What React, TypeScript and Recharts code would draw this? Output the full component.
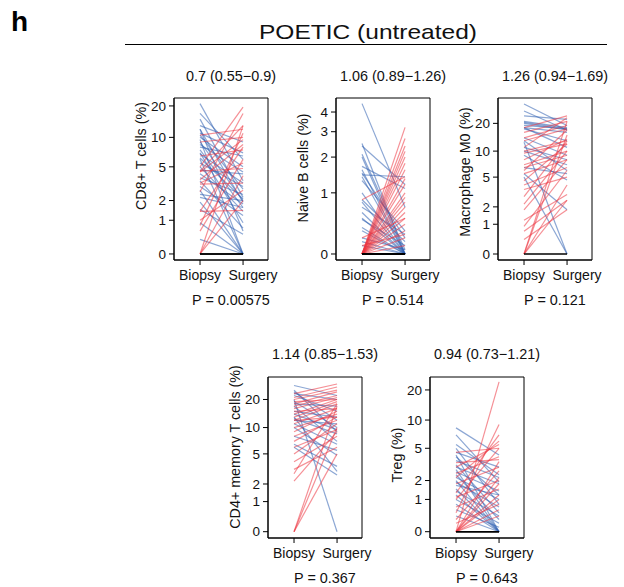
import { LineChart, Line, XAxis, YAxis, ReferenceArea } from 'recharts';

// paired values (% of cells), one entry per patient, biopsy then surgery
const timepoints = ['Biopsy', 'Surgery'];

const cd8Biopsy = [21, 17, 15, 13, 12, 12, 11, 10.5, 10, 9.5, 9, 8.5, 8, 7.5, 7, 6.8, 6.2, 6, 5.5, 5, 4.6, 4.2, 3.8, 3.5, 3, 2.7, 2.4, 2.2, 1.9, 1.5, 0.9, 0.35, 5, 4.5, 3.6, 4.4, 3.3, 3.2, 4.5, 1.4, 1.4, 0.8, 0.6, 0, 0, 0, 2.6, 6.5, 9, 10.5, 1, 0, 0];
const cd8Surgery = [3.5, 6, 2.2, 9, 1.9, 0.6, 7, 2.8, 5, 0, 2, 4.4, 6.5, 1.6, 0.9, 3.3, 2.1, 0, 3, 1.4, 4.2, 1.8, 2.4, 0.7, 1.2, 0, 2, 1.6, 0, 0.5, 0, 0, 19.5, 13, 8.5, 9.5, 5.5, 3.3, 4.8, 1.45, 8, 11, 6, 13, 4, 2, 17, 7.5, 10, 12, 2.7, 0, 0];
const cd8Ticks = [0, 1, 2, 5, 10, 20];

const naiveBBiopsy = [4.5, 2.5, 2.4, 2, 2.1, 1.7, 1.6, 1.5, 1.45, 1.4, 1.3, 1, 0.85, 0.8, 0.7, 0.6, 0.5, 0.48, 0.35, 0.3, 0.2, 0.15, 0.1, 0, 0, 0, 0, 0, 0, 0, 0, 0, 0, 0, 0, 0, 0, 0, 0, 0, 0, 0, 0.85, 0.2, 0.1, 0, 0, 0, 0];
const naiveBSurgery = [0.7, 0, 1.2, 0, 0.05, 1.1, 0, 0.2, 1.4, 0, 0.3, 0, 0.15, 0, 0.25, 0, 0, 0.1, 0, 0, 0.05, 0, 0, 3.2, 2.7, 2.4, 2.2, 2, 1.8, 1.6, 1.35, 1.2, 1, 0.9, 0.8, 0.7, 0.6, 0.5, 0.4, 0.3, 0.2, 0.1, 1.4, 0.5, 0.25, 0, 0, 0, 0];
const naiveBTicks = [0, 1, 2, 3, 4];

const m0Biopsy = [32, 27, 24, 21, 20.5, 20, 19, 18, 17.5, 14, 13, 12.5, 11, 10, 9, 6.5, 5.5, 5, 18, 18, 16, 14, 13, 11, 10, 9.5, 8, 7, 6.5, 6, 5.5, 4.5, 4, 3.5, 2.8, 2.2, 1.8, 1.2, 0.9, 0.7, 0.4, 0, 0, 0, 0, 0];
const m0Surgery = [19, 17, 22, 18, 17.5, 17, 17.5, 16, 13, 9, 6, 0, 8, 7, 4.6, 5.5, 1.8, 0, 11, 24, 21, 19, 17.5, 23, 13, 12, 13.5, 10, 9, 17, 8, 12, 6.5, 5, 13, 10, 8, 3, 6, 2.5, 1.8, 21, 15, 4, 2.5, 0];
const m0Ticks = [0, 1, 2, 5, 10, 20];

const cd4Biopsy = [28, 25, 24, 23, 22, 20, 19, 18, 17, 15, 14, 13, 12.5, 12, 11, 10, 8, 6.5, 6, 23, 21, 20, 18, 17, 16, 14, 13, 12, 11, 10, 9, 8, 7, 6, 5, 4, 3.2, 2.8, 2.2, 0, 0, 0, 15, 19, 12];
const cd4Surgery = [22, 9, 12, 20, 15, 0, 10, 17, 7, 13, 9.5, 3, 8.5, 11, 6.5, 4.8, 5.5, 3.5, 2.7, 29, 27, 25, 24, 22, 21, 20, 19, 18, 16, 14, 15, 12, 13, 9.5, 11, 8, 6, 18, 9, 17, 10, 5, 16, 20, 13];
const cd4Ticks = [0, 1, 2, 5, 10, 20];

const tregBiopsy = [8.3, 7, 5.5, 5, 4.5, 4.2, 4, 3.6, 3.2, 3, 2.8, 2.6, 2.4, 2.2, 2, 1.9, 1.7, 1.5, 1.4, 1.2, 1, 0.8, 0.6, 0.4, 0, 0.5, 1.3, 2.2, 3, 1, 4.5, 2.5, 0, 1.8, 0.3, 3.4, 0, 1.1, 0, 0.7, 0, 0, 0.2, 0, 0, 0, 0];
const tregSurgery = [4.2, 1.9, 2.4, 0.8, 3, 0, 1.2, 2.2, 0.5, 1.8, 0, 1.4, 0.3, 1, 0, 0.7, 1.2, 0, 0.4, 0, 0.2, 0, 0.1, 0, 24, 9, 7, 6, 5.5, 5, 5, 4, 3.5, 3, 2.7, 3.7, 2.2, 2, 1.8, 1.5, 1.2, 1, 0.8, 0.6, 0.4, 0, 0];
const tregTicks = [0, 1, 2, 5, 10, 20];

const FONT = 'Liberation Sans, Arial, Helvetica, sans-serif';
const RED = '#ec3540';
const BLUE = '#2d5eb0';

const tr = (v: number) => Math.log10(v + 1);
const untr = (v: number) => Math.round((Math.pow(10, v) - 1) * 100) / 100;

const panels = [
  { label: 'CD8+ T cells (%)', biopsy: cd8Biopsy, surgery: cd8Surgery, ticks: cd8Ticks, domain: [-0.054, 1.393], ratio: '0.7 (0.55\u22120.9)', p: 'P = 0.00575', left: 174, top: 98, h: 162, labelY: 156 },
  { label: 'Naive B cells (%)', biopsy: naiveBBiopsy, surgery: naiveBSurgery, ticks: naiveBTicks, domain: [-0.0296, 0.768], ratio: '1.06 (0.89\u22121.26)', p: 'P = 0.514', left: 336, top: 98, h: 162, labelY: 168 },
  { label: 'Macrophage M0 (%)', biopsy: m0Biopsy, surgery: m0Surgery, ticks: m0Ticks, domain: [-0.0607, 1.579], ratio: '1.26 (0.94\u22121.69)', p: 'P = 0.121', left: 498, top: 98, h: 162, labelY: 172 },
  { label: 'CD4+ memory T cells (%)', biopsy: cd4Biopsy, surgery: cd4Surgery, ticks: cd4Ticks, domain: [-0.063, 1.547], ratio: '1.14 (0.85\u22121.53)', p: 'P = 0.367', left: 268, top: 377, h: 161, labelY: 447 },
  { label: 'Treg (%)', biopsy: tregBiopsy, surgery: tregSurgery, ticks: tregTicks, domain: [-0.0588, 1.443], ratio: '0.94 (0.73\u22121.21)', p: 'P = 0.643', left: 430, top: 377, h: 161, labelY: 455 },
];

const BOX_W = 94;
const AXIS_W = 60;
// timepoints sit at x = 1 and 2; box runs a bit wider, like R's xlim
const X_DOMAIN = [0.395, 2.58];

// R-style x labels: "Surgery" sits a little right of its tick
function XTick({ x, y, payload }: any) {
  const label = timepoints[payload.value - 1];
  const shift = label === 'Surgery' ? 10 : 0;
  return (
    <text x={x + shift} y={y} dy="0.71em" textAnchor="middle" fill="#111" fontSize={14} fontFamily={FONT}>
      {label}
    </text>
  );
}

function PairedPanel({ panel }: { panel: (typeof panels)[number] }) {
  const { biopsy, surgery } = panel;
  const rows = timepoints.map((_, ti) => {
    const row: Record<string, number> = { x: ti + 1 };
    (ti === 0 ? biopsy : surgery).forEach((v, i) => {
      row[`p${i}`] = tr(v);
    });
    return row;
  });
  // unchanged (black) pairs drawn last so they sit on top
  const order = biopsy
    .map((_, i) => i)
    .sort((a, b) => (biopsy[a] === surgery[a] ? 1 : 0) - (biopsy[b] === surgery[b] ? 1 : 0));

  return (
    <div style={{ position: 'absolute', left: panel.left - AXIS_W, top: panel.top - 10 }}>
      <LineChart
        width={AXIS_W + BOX_W + 10}
        height={panel.h + 50}
        data={rows}
        margin={{ top: 10, right: 10, bottom: 0, left: 0 }}
      >
        <XAxis
          dataKey="x"
          type="number"
          domain={X_DOMAIN}
          allowDataOverflow
          ticks={[1, 2]}
          height={40}
          stroke="#000"
          tickSize={5}
          tickMargin={5}
          interval={0}
          tick={<XTick />}
        />
        <YAxis
          type="number"
          domain={panel.domain}
          allowDataOverflow
          ticks={panel.ticks.map(tr)}
          tickFormatter={(v: number) => String(untr(v))}
          width={AXIS_W}
          stroke="#000"
          tickSize={5}
          tickMargin={3}
          interval={0}
          tick={{ fill: '#111', fontSize: 13.5, fontFamily: FONT }}
        />
        {order.map((i) => {
          const up = surgery[i] > biopsy[i];
          const same = surgery[i] === biopsy[i];
          return (
            <Line
              key={i}
              dataKey={`p${i}`}
              type="linear"
              stroke={same ? '#000' : up ? RED : BLUE}
              strokeOpacity={same ? 1 : 0.55}
              strokeWidth={same ? 1.4 : 1.2}
              dot={false}
              activeDot={false}
              isAnimationActive={false}
            />
          );
        })}
        <ReferenceArea
          x1={X_DOMAIN[0]}
          x2={X_DOMAIN[1]}
          y1={panel.domain[0]}
          y2={panel.domain[1]}
          fill="none"
          stroke="#000"
          strokeWidth={1}
          ifOverflow="visible"
        />
      </LineChart>
    </div>
  );
}

export default function App() {
  return (
    <div style={{ position: 'absolute', left: 0, top: 0, width: 624, height: 587, background: '#fff', fontFamily: FONT }}>
      {panels.map((p) => (
        <PairedPanel key={p.label} panel={p} />
      ))}
      <svg width={624} height={587} style={{ position: 'absolute', left: 0, top: 0, pointerEvents: 'none' }}>
        <text x={11} y={30.5} fontSize={28} fontWeight="bold" fill="#000">h</text>
        <text x={368} y={39} fontSize={21} textAnchor="middle" textLength={218} lengthAdjust="spacingAndGlyphs" fill="#111">
          POETIC (untreated)
        </text>
        <line x1={125} x2={607} y1={44.5} y2={44.5} stroke="#000" strokeWidth={1} />
        {panels.map((p) => {
          const cx = p.left + BOX_W / 2 + 10;
          const row1 = p.top < 200;
          return (
            <g key={p.label} fill="#111" fontSize={14.4}>
              <text x={cx} y={row1 ? 80.5 : 359} textAnchor="middle">{p.ratio}</text>
              <text x={cx} y={row1 ? 305 : 583} textAnchor="middle">{p.p}</text>
              <text
                x={0}
                y={0}
                fontSize={14.3}
                textAnchor="middle"
                dominantBaseline="central"
                transform={`translate(${p.left - 33.5},${p.labelY}) rotate(-90)`}
              >
                {p.label}
              </text>
            </g>
          );
        })}
      </svg>
    </div>
  );
}
